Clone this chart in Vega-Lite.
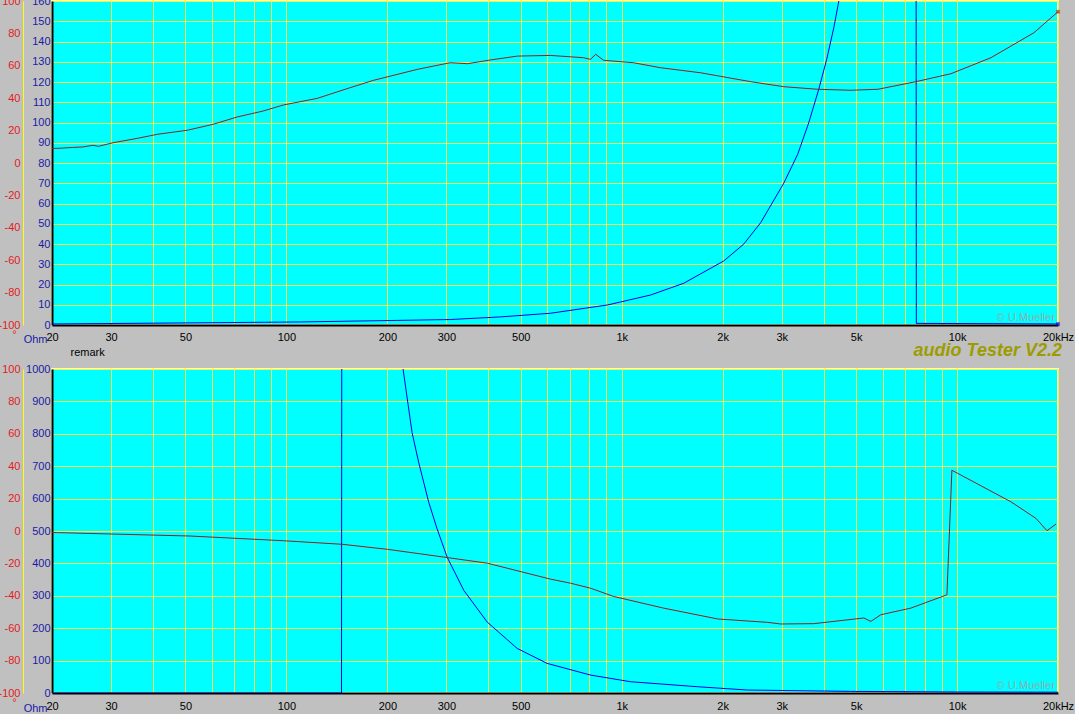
{
  "$schema": "https://vega.github.io/schema/vega-lite/v6.json",
  "background": "#C0C0C0",
  "padding": {"left": -4, "top": -6, "right": 0, "bottom": 0},
  "bounds": "flush",
  "spacing": 44,
  "config": {
    "view": {"fill": "#00FFFF", "stroke": "#FFFFB0", "strokeWidth": 2},
    "font": "Liberation Sans",
    "axis": {"labelFont": "Liberation Sans", "titleFont": "Liberation Sans"}
  },
  "datasets": {
    "topPhase": [
      {"f": 20, "v": 9.0}, {"f": 21.1, "v": 9.1}, {"f": 23, "v": 9.6}, {"f": 24.7, "v": 9.9}, {"f": 26.5, "v": 10.9},
      {"f": 27.5, "v": 10.3}, {"f": 30.4, "v": 12.5}, {"f": 35.9, "v": 15.2}, {"f": 41.2, "v": 17.7},
      {"f": 50.6, "v": 20.2}, {"f": 60.5, "v": 23.9}, {"f": 71.3, "v": 28.4}, {"f": 85.3, "v": 32.1},
      {"f": 97.9, "v": 35.8}, {"f": 123.6, "v": 39.9}, {"f": 155, "v": 46.5}, {"f": 181.6, "v": 51.0},
      {"f": 245.8, "v": 57.8}, {"f": 308, "v": 61.9}, {"f": 347, "v": 61.3}, {"f": 406, "v": 63.6},
      {"f": 489, "v": 66.0}, {"f": 613, "v": 66.4}, {"f": 769, "v": 65.0}, {"f": 807, "v": 64.0},
      {"f": 836, "v": 67.1}, {"f": 883, "v": 63.4}, {"f": 1084, "v": 61.9}, {"f": 1306, "v": 58.8},
      {"f": 1719, "v": 55.7}, {"f": 2424, "v": 50.2}, {"f": 3042, "v": 47.1}, {"f": 3842, "v": 45.5},
      {"f": 4820, "v": 44.9}, {"f": 5804, "v": 45.5}, {"f": 7536, "v": 50.2}, {"f": 9584, "v": 55.1},
      {"f": 12620, "v": 65.0}, {"f": 16950, "v": 80.4}, {"f": 20000, "v": 93.4}
    ],
    "topMag": [
      {"f": 20, "v": 0.5}, {"f": 110, "v": 1.5}, {"f": 308, "v": 2.7}, {"f": 435, "v": 4.0},
      {"f": 613, "v": 5.8}, {"f": 908, "v": 9.9}, {"f": 1219, "v": 14.8}, {"f": 1530, "v": 20.6},
      {"f": 2014, "v": 31.6}, {"f": 2310, "v": 39.9}, {"f": 2596, "v": 50.5}, {"f": 3042, "v": 70},
      {"f": 3348, "v": 84.3}, {"f": 3612, "v": 99.9}, {"f": 3869, "v": 116.4}, {"f": 4086, "v": 131.2},
      {"f": 4290, "v": 146.8}, {"f": 4441, "v": 160}, {"f": 4656, "v": 200}, {"f": 7536, "v": 400},
      {"f": 7560, "v": 0.8}, {"f": 20000, "v": 0.5}
    ],
    "botPhase": [
      {"f": 20, "v": -0.9}, {"f": 20.8, "v": -1.0}, {"f": 29.2, "v": -1.8}, {"f": 51.6, "v": -3.1},
      {"f": 97.9, "v": -6.0}, {"f": 146.7, "v": -8.2}, {"f": 200, "v": -11.3}, {"f": 302, "v": -16.4},
      {"f": 398, "v": -19.9}, {"f": 613, "v": -29.7}, {"f": 703, "v": -32.2}, {"f": 807, "v": -35.3},
      {"f": 946, "v": -40.4}, {"f": 1333, "v": -47.6}, {"f": 1932, "v": -54.3}, {"f": 2726, "v": -56.4},
      {"f": 2980, "v": -57.4}, {"f": 3738, "v": -57.2}, {"f": 5272, "v": -53.7}, {"f": 5532, "v": -55.8},
      {"f": 5925, "v": -51.7}, {"f": 7280, "v": -47.6}, {"f": 9328, "v": -39.4}, {"f": 9651, "v": 37.5},
      {"f": 14480, "v": 18.0}, {"f": 17190, "v": 7.8}, {"f": 18540, "v": 0.2}, {"f": 19730, "v": 4.3}
    ],
    "botMag": [
      {"f": 20, "v": 0}, {"f": 146, "v": 0}, {"f": 146.8, "v": 3000}, {"f": 222.8, "v": 1000},
      {"f": 237, "v": 804}, {"f": 248, "v": 712}, {"f": 265.7, "v": 589}, {"f": 281.4, "v": 507},
      {"f": 301.6, "v": 419}, {"f": 338, "v": 317}, {"f": 397, "v": 219}, {"f": 488, "v": 137.5},
      {"f": 599, "v": 91.4}, {"f": 807, "v": 55.4}, {"f": 1063, "v": 34.8}, {"f": 1681, "v": 19.4},
      {"f": 2370, "v": 9.2}, {"f": 4820, "v": 5}, {"f": 10000, "v": 3}, {"f": 20000, "v": 2.5}
    ],
    "creditTop": [{"t": "© U.Mueller", "f": 19600, "v": 1.8}],
    "creditBot": [{"t": "© U.Mueller", "f": 19600, "v": 12}]
  },
  "vconcat": [
    {
      "width": 1006,
      "height": 324,
      "encoding": {
        "x": {
          "field": "f", "type": "quantitative",
          "scale": {"type": "log", "domain": [20, 20000]},
          "axis": {
            "values": [20,30,40,50,60,70,80,90,100,200,300,400,500,600,700,800,900,1000,2000,3000,4000,5000,6000,7000,8000,9000,10000,20000],
            "grid": true, "gridColor": "#EEF050", "gridWidth": 1, "gridOpacity": 1,
            "ticks": false, "domainColor": "#000000", "domainWidth": 2,
            "labelExpr": "datum.value == 20000 ? '20kHz' : (indexof([1000,2000,3000,5000,10000], datum.value) >= 0 ? (datum.value/1000) + 'k' : (indexof([20,30,50,100,200,300,500], datum.value) >= 0 ? '' + datum.value : ''))",
            "labelColor": "#000000", "labelFontSize": 11, "labelPadding": 6, "labelOverlap": false, "labelFlush": false,
            "title": "remark", "titleX": 18, "titleY": 30, "titleAlign": "left", "titleBaseline": "alphabetic",
            "titleFontWeight": "normal", "titleFontSize": 11, "titleColor": "#000000"
          }
        }
      },
      "layer": [
        {
          "data": {"name": "topMag"},
          "mark": {"type": "line", "color": "#0000DD", "strokeWidth": 1, "clip": true},
          "encoding": {
            "y": {
              "field": "v", "type": "quantitative", "scale": {"domain": [0, 160]},
              "axis": {
                "orient": "left", "values": [0,10,20,30,40,50,60,70,80,90,100,110,120,130,140,150,160],
                "labelExpr": "'' + datum.value",
                "grid": true, "gridColor": "#EEF050", "gridWidth": 1, "gridOpacity": 1,
                "domainColor": "#000000", "domainWidth": 2, "ticks": false,
                "labelColor": "#1A1AA8", "labelFontSize": 11, "labelPadding": 2, "labelOverlap": false, "labelFlush": false,
                "title": "Ohm", "titleAngle": 0, "titleX": -5, "titleY": 341, "titleAlign": "right", "titleBaseline": "alphabetic",
                "titleColor": "#1A1AA8", "titleFontWeight": "normal", "titleFontSize": 11
              }
            }
          }
        },
        {
          "data": {"name": "topPhase"},
          "mark": {"type": "line", "color": "#8B2020", "strokeWidth": 1, "clip": true},
          "encoding": {
            "y": {
              "field": "v", "type": "quantitative", "scale": {"domain": [-100, 100]},
              "axis": {
                "orient": "left", "offset": 29, "values": [-100,-80,-60,-40,-20,0,20,40,60,80,100],
                "labelExpr": "'' + datum.value",
                "grid": false, "domainColor": "#FFFF00", "domainWidth": 1, "ticks": false,
                "labelColor": "#E02020", "labelFontSize": 11, "labelPadding": 3, "labelOverlap": false, "labelFlush": false,
                "title": "°", "titleAngle": 0, "titleX": -9, "titleY": 336, "titleAlign": "center", "titleBaseline": "alphabetic",
                "titleColor": "#E02020", "titleFontWeight": "normal", "titleFontSize": 10
              }
            }
          }
        },
        {
          "data": {"name": "topPhase"},
          "transform": [{"filter": "datum.f == 20000"}],
          "mark": {"type": "point", "shape": "cross", "angle": 45, "size": 20, "filled": true, "color": "#A03010"},
          "encoding": {
            "y": {"field": "v", "type": "quantitative", "scale": {"domain": [-100, 100]}, "axis": null}
          }
        },
        {
          "data": {"name": "topMag"},
          "transform": [{"filter": "datum.f == 20000"}],
          "mark": {"type": "point", "shape": "cross", "angle": 45, "size": 20, "filled": true, "color": "#0000DD"},
          "encoding": {
            "y": {"field": "v", "type": "quantitative", "scale": {"domain": [0, 160]}, "axis": null}
          }
        },
        {
          "data": {"name": "creditTop"},
          "mark": {"type": "text", "align": "right", "baseline": "alphabetic", "color": "#8FAFAF", "fontSize": 11, "font": "Liberation Sans"},
          "encoding": {
            "y": {"field": "v", "type": "quantitative", "scale": {"domain": [0, 160]}, "axis": null},
            "text": {"field": "t", "type": "nominal"}
          }
        }
      ],
      "resolve": {"scale": {"y": "independent"}, "axis": {"y": "independent"}}
    },
    {
      "width": 1006,
      "height": 324,
      "title": {
        "text": "audio Tester V2.2", "anchor": "end", "frame": "group", "orient": "top", "offset": -11,
        "baseline": "alphabetic", "color": "#9C9C00", "font": "Liberation Sans", "fontSize": 18,
        "fontStyle": "italic", "fontWeight": "bold", "dx": 4
      },
      "encoding": {
        "x": {
          "field": "f", "type": "quantitative",
          "scale": {"type": "log", "domain": [20, 20000]},
          "axis": {
            "values": [20,30,40,50,60,70,80,90,100,200,300,400,500,600,700,800,900,1000,2000,3000,4000,5000,6000,7000,8000,9000,10000,20000],
            "grid": true, "gridColor": "#EEF050", "gridWidth": 1, "gridOpacity": 1,
            "ticks": false, "domainColor": "#000000", "domainWidth": 2,
            "labelExpr": "datum.value == 20000 ? '20kHz' : (indexof([1000,2000,3000,5000,10000], datum.value) >= 0 ? (datum.value/1000) + 'k' : (indexof([20,30,50,100,200,300,500], datum.value) >= 0 ? '' + datum.value : ''))",
            "labelColor": "#000000", "labelFontSize": 11, "labelPadding": 7, "labelOverlap": false, "labelFlush": false,
            "title": null
          }
        }
      },
      "layer": [
        {
          "data": {"name": "botMag"},
          "mark": {"type": "line", "color": "#0000DD", "strokeWidth": 1, "clip": true},
          "encoding": {
            "y": {
              "field": "v", "type": "quantitative", "scale": {"domain": [0, 1000]},
              "axis": {
                "orient": "left", "values": [0,100,200,300,400,500,600,700,800,900,1000],
                "labelExpr": "'' + datum.value",
                "grid": true, "gridColor": "#EEF050", "gridWidth": 1, "gridOpacity": 1,
                "domainColor": "#000000", "domainWidth": 2, "ticks": false,
                "labelColor": "#1A1AA8", "labelFontSize": 11, "labelPadding": 2, "labelOverlap": false, "labelFlush": false,
                "title": "Ohm", "titleAngle": 0, "titleX": -5, "titleY": 342, "titleAlign": "right", "titleBaseline": "alphabetic",
                "titleColor": "#1A1AA8", "titleFontWeight": "normal", "titleFontSize": 11
              }
            }
          }
        },
        {
          "data": {"name": "botPhase"},
          "mark": {"type": "line", "color": "#8B2020", "strokeWidth": 1, "clip": true},
          "encoding": {
            "y": {
              "field": "v", "type": "quantitative", "scale": {"domain": [-100, 100]},
              "axis": {
                "orient": "left", "offset": 29, "values": [-100,-80,-60,-40,-20,0,20,40,60,80,100],
                "labelExpr": "'' + datum.value",
                "grid": false, "domainColor": "#FFFF00", "domainWidth": 1, "ticks": false,
                "labelColor": "#E02020", "labelFontSize": 11, "labelPadding": 3, "labelOverlap": false, "labelFlush": false,
                "title": "°", "titleAngle": 0, "titleX": -9, "titleY": 336, "titleAlign": "center", "titleBaseline": "alphabetic",
                "titleColor": "#E02020", "titleFontWeight": "normal", "titleFontSize": 10
              }
            }
          }
        },
        {
          "data": {"name": "creditBot"},
          "mark": {"type": "text", "align": "right", "baseline": "alphabetic", "color": "#8FAFAF", "fontSize": 11, "font": "Liberation Sans"},
          "encoding": {
            "y": {"field": "v", "type": "quantitative", "scale": {"domain": [0, 1000]}, "axis": null},
            "text": {"field": "t", "type": "nominal"}
          }
        }
      ],
      "resolve": {"scale": {"y": "independent"}, "axis": {"y": "independent"}}
    }
  ]
}
